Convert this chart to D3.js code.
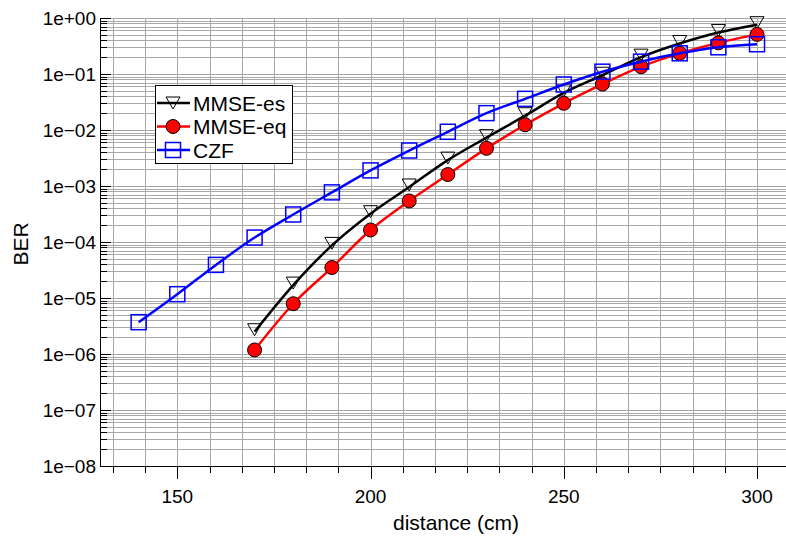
<!DOCTYPE html>
<meta charset="utf-8">
<style>
body { margin: 0; background: #fff; }
svg { font-family: "Liberation Sans", Arial, sans-serif; }
.grid line { stroke: #a8a8a8; stroke-width: 1; shape-rendering: crispEdges; }
.axis line, .axis path { stroke: #000; shape-rendering: crispEdges; }
.series path.line { fill: none; stroke-width: 2.5; }
</style>
<svg width="786" height="537"></svg>
<script src="https://cdn.jsdelivr.net/npm/d3@7"></script>
<script>

var distance = [140, 150, 160, 170, 180, 190, 200, 210, 220, 230, 240, 250, 260, 270, 280, 290, 300];

var mmseEsDist = [170, 180, 190, 200, 210, 220, 230, 240, 250, 260, 270, 280, 290, 300];
var mmseEs = [2.5e-6, 1.7e-5, 8.7e-5, 3.2e-4, 9.6e-4, 2.9e-3, 7.3e-3, 1.8e-2, 4.6e-2, 0.095, 0.2, 0.35, 0.55, 0.76];

var mmseEqDist = [170, 180, 190, 200, 210, 220, 230, 240, 250, 260, 270, 280, 290, 300];
var mmseEq = [1.18e-6, 7.9e-6, 3.5e-5, 1.64e-4, 5.4e-4, 1.6e-3, 4.7e-3, 1.24e-2, 3.0e-2, 6.6e-2, 0.135, 0.234, 0.36, 0.51];

var czfDist = distance;
var czf = [3.7e-6, 1.17e-5, 3.9e-5, 1.2e-4, 3.1e-4, 7.7e-4, 1.9e-3, 4.3e-3, 9.3e-3, 2.0e-2, 3.6e-2, 6.5e-2, 0.11, 0.166, 0.234, 0.30, 0.34];

var xLabels = [150, 200, 250, 300];
var yDecades = [-8, -7, -6, -5, -4, -3, -2, -1, 0];

var svg = d3.select("svg"),
    width = +svg.attr("width"),
    height = +svg.attr("height");

var pLeft = 100, pRight = 786, pTop = 18, pBottom = 466;

var x = d3.scaleLinear().domain([130, 307.5]).range([pLeft, pRight]);
var y = d3.scaleLog().domain([1e-8, 1]).range([pBottom, pTop]);

// minor x ticks every 50/6 cm
var xTicks = d3.range(-2, 20).map(function(i) { return 150 + i * 50 / 6; })
  .filter(function(d) { return x(d) > pLeft + 1 && x(d) < pRight; });

var yTicks = [];
yDecades.forEach(function(e) {
  if (e === 0) { yTicks.push(1); return; }
  for (var m = 1; m < 10; m++) yTicks.push(m * Math.pow(10, e));
});

var grid = svg.append("g").attr("class", "grid");
grid.selectAll(".v").data(xTicks).enter().append("line")
    .attr("x1", function(d) { return Math.round(x(d)) + 0.5; })
    .attr("x2", function(d) { return Math.round(x(d)) + 0.5; })
    .attr("y1", pTop).attr("y2", pBottom);
grid.selectAll(".h").data(yTicks).enter().append("line")
    .attr("x1", pLeft).attr("x2", pRight)
    .attr("y1", function(d) { return Math.round(y(d)) + 0.5; })
    .attr("y2", function(d) { return Math.round(y(d)) + 0.5; });

// axes
var ax = svg.append("g").attr("class", "axis");
ax.append("line").attr("x1", pLeft).attr("x2", pRight).attr("y1", pBottom + 0.5).attr("y2", pBottom + 0.5).attr("stroke-width", 1.5);
ax.append("line").attr("x1", pLeft + 0.5).attr("x2", pLeft + 0.5).attr("y1", pTop).attr("y2", pBottom).attr("stroke-width", 1.5);

function isMajorX(d) { return Math.abs((d - 150) / 50 - Math.round((d - 150) / 50)) < 1e-6; }

ax.selectAll(".xt").data(xTicks).enter().append("line")
    .attr("x1", function(d) { return Math.round(x(d)) + 0.5; })
    .attr("x2", function(d) { return Math.round(x(d)) + 0.5; })
    .attr("y1", pBottom)
    .attr("y2", function(d) { return isMajorX(d) ? pBottom + 13 : pBottom + 7; });

ax.selectAll(".yt").data(yTicks).enter().append("line")
    .attr("y1", function(d) { return Math.round(y(d)) + 0.5; })
    .attr("y2", function(d) { return Math.round(y(d)) + 0.5; })
    .attr("x1", pLeft)
    .attr("x2", function(d) { var l = Math.log10(d); return Math.abs(l - Math.round(l)) < 1e-9 ? pLeft + 11 : pLeft + 7; });

ax.selectAll(".xl").data(xLabels).enter().append("text")
    .attr("x", function(d) { return x(d); })
    .attr("y", 503)
    .attr("text-anchor", "middle")
    .attr("font-size", 19)
    .text(function(d) { return d; });

ax.selectAll(".yl").data(yDecades).enter().append("text")
    .attr("x", 96)
    .attr("y", function(d) { return y(Math.pow(10, d)) + 7; })
    .attr("text-anchor", "end")
    .attr("font-size", 19)
    .text(function(d) {
      var a = Math.abs(d);
      return "1e" + (d < 0 ? "\u2212" : "+") + (a < 10 ? "0" : "") + a;
    });

svg.append("text")
    .attr("x", 456).attr("y", 530)
    .attr("text-anchor", "middle")
    .attr("font-size", 21)
    .text("distance (cm)");

svg.append("text")
    .attr("transform", "translate(28,244) rotate(-90)")
    .attr("text-anchor", "middle")
    .attr("font-size", 21)
    .text("BER");

// markers
function drawMarker(g, type, cx, cy) {
  if (type === "tri") {
    g.append("path")
      .attr("d", "M" + (cx - 7) + "," + (cy - 8) + "L" + (cx + 7) + "," + (cy - 8) + "L" + cx + "," + (cy + 4) + "Z")
      .attr("fill", "none").attr("stroke", "#000").attr("stroke-width", 1);
  } else if (type === "circle") {
    g.append("circle").attr("cx", cx).attr("cy", cy).attr("r", 7)
      .attr("fill", "#f00").attr("stroke", "#000").attr("stroke-width", 1);
  } else {
    g.append("rect").attr("x", cx - 7.5).attr("y", cy - 7.5).attr("width", 15).attr("height", 15)
      .attr("fill", "none").attr("stroke", "#00f").attr("stroke-width", 1.5);
  }
}

var series = [
  { name: "MMSE-es", xs: mmseEsDist, ys: mmseEs, color: "#000", marker: "tri" },
  { name: "MMSE-eq", xs: mmseEqDist, ys: mmseEq, color: "#f00", marker: "circle" },
  { name: "CZF", xs: czfDist, ys: czf, color: "#00f", marker: "square" }
];

var line = d3.line()
    .x(function(d) { return x(d[0]); })
    .y(function(d) { return y(d[1]); })
    .curve(d3.curveMonotoneX);

series.forEach(function(s) {
  var pts = s.xs.map(function(d, i) { return [d, s.ys[i]]; });
  var g = svg.append("g").attr("class", "series");
  g.append("path").attr("class", "line").datum(pts).attr("d", line).attr("stroke", s.color);
  pts.forEach(function(p) { drawMarker(g, s.marker, x(p[0]), y(p[1])); });
});

// legend
var lg = svg.append("g").attr("class", "legend");
lg.append("rect").attr("x", 155.5).attr("y", 85.5).attr("width", 137).attr("height", 78)
    .attr("fill", "#fff").attr("stroke", "#000").attr("stroke-width", 1);
series.forEach(function(s, i) {
  var cy = 103 + i * 23.5;
  lg.append("line").attr("x1", 157).attr("x2", 190).attr("y1", cy).attr("y2", cy)
    .attr("stroke", s.color).attr("stroke-width", 2.5);
  drawMarker(lg, s.marker, 173, s.marker === "tri" ? cy + 2 : cy);
  lg.append("text").attr("x", 193).attr("y", cy + 7.5).attr("font-size", 21).text(s.name);
});

</script>
